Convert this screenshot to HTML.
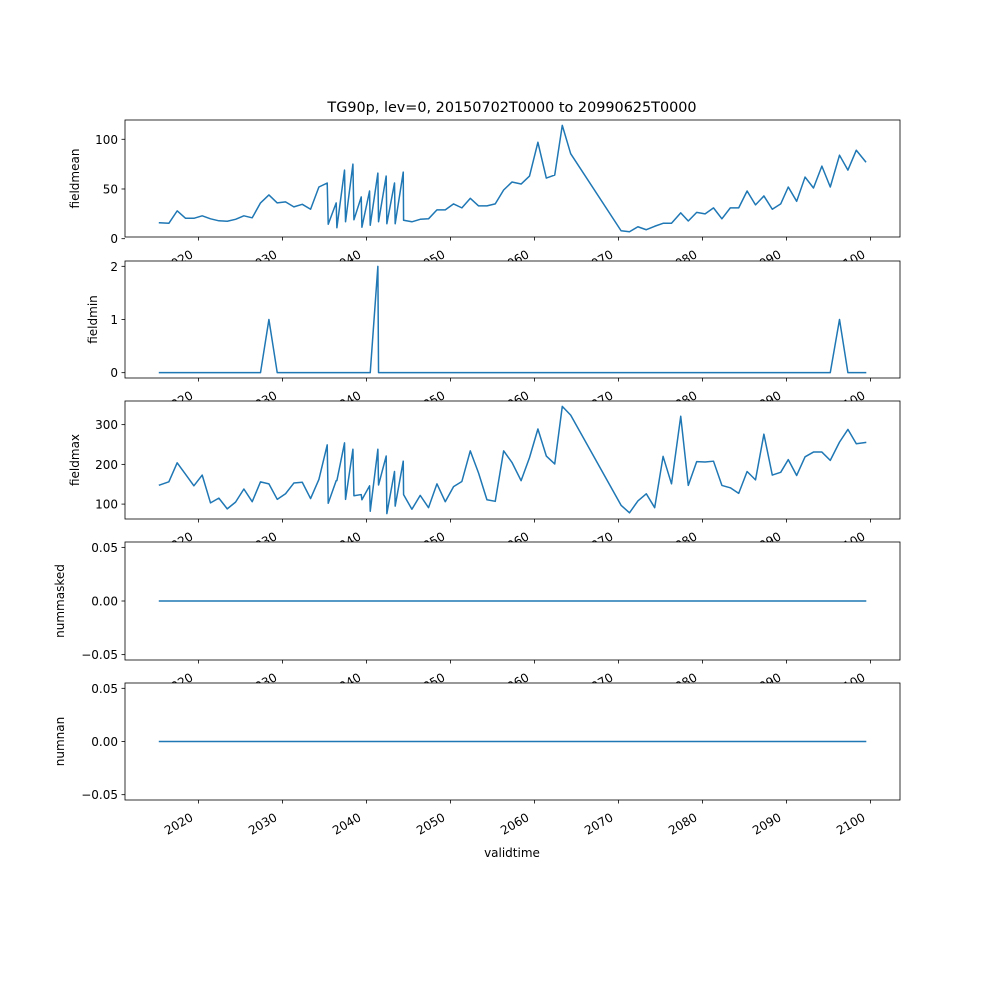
<!DOCTYPE html>
<html><head><meta charset="utf-8">
<style>
html,body{margin:0;padding:0;background:#fff;}
svg{display:block;font-family:"DejaVu Sans","Liberation Sans",sans-serif;}
</style></head>
<body>
<svg id="chart" width="1000" height="1000" viewBox="0 0 1000 1000">
<rect width="1000" height="1000" fill="#fff"/>
<text x="512" y="112" font-size="14.4" text-anchor="middle">TG90p, lev=0, 20150702T0000 to 20990625T0000</text>
<text x="512" y="857" font-size="12" text-anchor="middle">validtime</text>
</svg>
<script>
const years = [2015.36,2016.47,2017.46,2018.46,2019.45,2020.44,2021.43,2022.42,2023.42,2024.41,2025.4,2026.39,2027.38,2028.38,2029.37,2030.36,2031.35,2032.35,2033.34,2034.33,2035.32,
2035.44,2036.39,2036.47,2037.38,2037.5,2038.38,2038.5,2039.37,2039.45,2040.36,2040.44,2041.35,2041.43,2042.34,2042.42,2043.33,2043.41,2044.37,2044.41,
2045.4,2046.39,2047.38,2048.38,2049.37,2050.36,2051.35,2052.35,2053.34,2054.33,2055.32,2056.32,2057.31,
2058.4,2059.4,2060.4,2061.4,2062.4,2063.3,2064.3,
2070.3,2071.3,2072.3,2073.3,2074.3,2075.3,2076.3,2077.4,2078.3,2079.3,2080.3,2081.3,2082.3,2083.3,2084.3,2085.3,2086.3,2087.3,2088.3,2089.3,2090.2,2091.2,2092.2,2093.2,2094.2,2095.2,2096.3,2097.3,2098.3,2099.4];
const fieldmean = [16,15.5,28,20.5,20.5,23,20,18,17.5,19.5,23,21,36,44,36,37,32,34.6,29.6,52,56,
14.5,36,11,69,17,75,19,42,11.5,48,13.5,66,17,63,15,56,15,67,18.5,
17,19.5,20,29,29,35,31,40.6,33,33,35,49,57,
55,63,97,61,64,114,85.5,
8,7,12,9,12.5,15.5,15.5,26,17.8,26.5,25,31,20,31,31,48,34,43,29.6,35,52,37.6,62,51,73,52,84,69,89,77.5];
const fieldmax = [148,156,204,175,146,173,103,115,88,105,138,106,156,151,112,126,153,155,114,162,249,
102,159,159,254,112,238,121,124,111,146,82,238,148,221,76,182,95,208,124,
87,122,91,151,106,144,157,234,178,111,107,234,205,
159,217,289,221,201,346,324,
97,78,108,126,91,220,151,321,147,207,206,208,147,141,127,182,161,276,173,180,212,172,219,231,231,210,256,288,252,255];
const fieldminSpikes = [[2028.38,1],[2041.35,2],[2096.3,1]];
const xTicks = [2020,2030,2040,2050,2060,2070,2080,2090,2100];
const yTicks1 = [0,50,100];
const yTicks2 = [0,1,2];
const yTicks3 = [100,200,300];
const yTicks4 = [-0.05,0,0.05];

const NS = "http://www.w3.org/2000/svg";
const svg = document.getElementById('chart');
const X0 = 125, X1 = 900, XMIN = 2011.25, XMAX = 2103.5;
function xs(v){ return X0 + (v - XMIN) / (XMAX - XMIN) * (X1 - X0); }
function mk(tag, attrs, parent){ const e = document.createElementNS(NS, tag); for (const k in attrs) e.setAttribute(k, attrs[k]); (parent||svg).appendChild(e); return e; }

const fieldmin = years.map(y => { const s = fieldminSpikes.find(p => p[0] === y); return s ? s[1] : 0; });
const zeros = years.map(() => 0);

const panels = [
  {name:'fieldmean', top:120, bot:237, lo:1.7, hi:119.4, ticks:yTicks1, fmt:v=>String(v), vals:fieldmean, lx:75},
  {name:'fieldmin', top:261, bot:378, lo:-0.1, hi:2.1, ticks:yTicks2, fmt:v=>String(v), vals:fieldmin, lx:93},
  {name:'fieldmax', top:401, bot:519, lo:62.5, hi:359.5, ticks:yTicks3, fmt:v=>String(v), vals:fieldmax, lx:75},
  {name:'nummasked', top:542, bot:660, lo:-0.055, hi:0.055, ticks:yTicks4, fmt:v=>v.toFixed(2).replace('-','\u2212'), vals:zeros, lx:60},
  {name:'numnan', top:683, bot:800, lo:-0.055, hi:0.055, ticks:yTicks4, fmt:v=>v.toFixed(2).replace('-','\u2212'), vals:zeros, lx:60}
];

panels.forEach((p) => {
  const g = mk('g', {});
  
  
  const ys = v => p.bot - (v - p.lo) / (p.hi - p.lo) * (p.bot - p.top);
  mk('rect', {x:X0, y:p.top, width:X1-X0, height:p.bot-p.top, fill:'#fff'}, g);
  const d = years.map((y,i) => (i?'L':'M') + xs(y).toFixed(2) + ',' + ys(p.vals[i]).toFixed(2)).join(' ');
  const line = mk('path', {d:d, fill:'none', stroke:'#1f77b4', 'stroke-width':1.5, 'stroke-linejoin':'round', 'stroke-linecap':'square'}, g);
  
  
  const frame = mk('rect', {x:X0, y:p.top, width:X1-X0, height:p.bot-p.top, fill:'none', stroke:'#000', 'stroke-width':0.8}, g);
  
  
  p.ticks.forEach(t => {
    const y = ys(t);
    mk('line', {x1:X0-3.5, x2:X0, y1:y, y2:y, stroke:'#000', 'stroke-width':0.8}, g);
    const tx = mk('text', {x:X0-7, y:y+4.5, 'font-size':12, 'text-anchor':'end'}, g);
    tx.textContent = p.fmt(t);
    
    
  });
  xTicks.forEach(t => {
    const x = xs(t);
    mk('line', {x1:x, x2:x, y1:p.bot, y2:p.bot+3.5, stroke:'#000', 'stroke-width':0.8}, g);
    const tg = mk('g', {transform:`translate(${x-9},${p.bot+12}) rotate(-30)`}, g);
    const tx = mk('text', {x:0, y:9, 'font-size':12, 'text-anchor':'end'}, tg);
    tx.textContent = String(t);
    
    
  });
  const yl = mk('text', {transform:`translate(${p.lx + 4},${(p.top+p.bot)/2}) rotate(-90)`, 'font-size':12, 'text-anchor':'middle'}, g);
  yl.textContent = p.name;
  
  
});
</script>
</body></html>
